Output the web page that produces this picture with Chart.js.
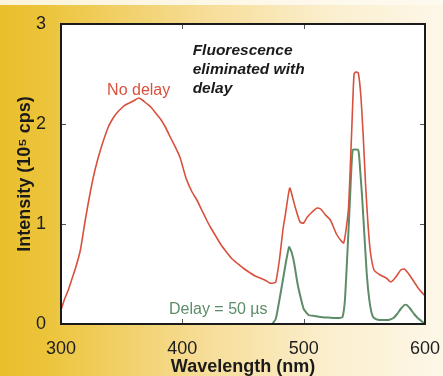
<!DOCTYPE html>
<html>
<head>
<meta charset="utf-8">
<script src="https://cdn.jsdelivr.net/npm/chart.js@4.4.1/dist/chart.umd.min.js"></script>
<style>
  html, body { margin: 0; padding: 0; background: #fdf7e8; }
  #wrap { width: 443px; height: 376px; }
</style>
</head>
<body>
<div id="wrap"><canvas id="spectrumChart" width="443" height="376"></canvas></div>
<script>
// spectra (wavelength in nm, intensity in 10^5 cps)
const redWavelengths = [300, 303, 306, 309, 312, 316, 320, 324, 328, 333, 339, 343, 346, 350, 353, 358, 361, 364, 367, 370,
    374, 378, 382, 386, 390, 393, 398, 403, 408, 412, 416, 420, 424, 428, 432, 437, 441, 445, 450, 456,
    460, 464, 468, 472, 475, 477, 480, 483, 485, 488.5, 491, 493, 497, 500, 503, 507, 511, 514, 518, 522,
    527, 531, 533, 535, 537, 539.5, 541.5, 543, 545, 547, 549, 551, 553, 555, 558, 563, 568, 572, 576, 580,
    583, 586, 590, 595, 600];
const redIntensity = [0.14, 0.25, 0.34, 0.45, 0.56, 0.74, 1.04, 1.31, 1.54, 1.76, 1.97, 2.06, 2.11, 2.16, 2.19, 2.22, 2.24, 2.26, 2.24, 2.21,
    2.17, 2.11, 2.05, 1.97, 1.87, 1.80, 1.67, 1.46, 1.32, 1.24, 1.14, 1.04, 0.95, 0.87, 0.79, 0.71, 0.65, 0.61, 0.56, 0.51,
    0.48, 0.46, 0.44, 0.41, 0.41, 0.42, 0.64, 0.95, 1.10, 1.36, 1.26, 1.17, 1.02, 1.01, 1.07, 1.12, 1.16, 1.15, 1.09, 1.04,
    0.90, 0.83, 0.81, 0.95, 1.17, 1.90, 2.50, 2.52, 2.51, 2.30, 1.90, 1.40, 1.00, 0.72, 0.54, 0.49, 0.46, 0.42, 0.47, 0.54,
    0.55, 0.51, 0.44, 0.35, 0.28];

const greenWavelengths = [474, 477, 480, 484, 486, 488, 490, 492, 495, 498, 500, 504, 509, 514, 519, 524, 529, 532, 534, 536,
    538, 540.4, 545, 546.5, 548, 550, 552, 554, 556, 558, 562, 566, 570, 574, 577, 580, 583, 585, 588, 591,
    594, 597, 600];
const greenIntensity = [0.0, 0.05, 0.24, 0.52, 0.66, 0.77, 0.72, 0.62, 0.40, 0.24, 0.15, 0.09, 0.08, 0.07, 0.065, 0.06, 0.06, 0.07, 0.24, 0.70,
    1.20, 1.74, 1.74, 1.55, 1.30, 0.90, 0.50, 0.25, 0.11, 0.06, 0.04, 0.04, 0.04, 0.06, 0.10, 0.15, 0.19, 0.19, 0.15, 0.10,
    0.06, 0.03, 0.0];

const xTicks = [300, 400, 500, 600];
const yTicks = [0, 1, 2, 3];

const redColor = '#d8513d';
const greenColor = '#5d8c68';
const fontFamily = '"Liberation Sans", Arial, Helvetica, sans-serif';

const toPoints = (xs, ys) => xs.map((x, i) => ({ x: x, y: ys[i] }));

// yellow backdrop, white plot box, frame, inward ticks and the labels inside the plot
const framePlugin = {
    id: 'frame',
    beforeDraw(chart) {
        const { ctx, width, height, chartArea: a } = chart;
        ctx.save();
        const g = ctx.createLinearGradient(0, 0, width, 0);
        g.addColorStop(0, '#eabf2c');
        g.addColorStop(0.1, '#ecc43a');
        g.addColorStop(0.45, '#f6dc95');
        g.addColorStop(0.75, '#fbefcf');
        g.addColorStop(1, '#fdf7e8');
        ctx.fillStyle = g;
        ctx.fillRect(0, 0, width, height);
        ctx.fillStyle = 'rgba(253, 249, 238, 0.9)';
        ctx.fillRect(0, 0, width, 5);
        ctx.fillStyle = '#ffffff';
        ctx.fillRect(a.left, a.top, a.right - a.left, a.bottom - a.top);
        ctx.restore();
    },
    afterDatasetsDraw(chart) {
        const { ctx, chartArea: a, scales } = chart;
        const x = scales.x, y = scales.y;
        ctx.save();
        ctx.strokeStyle = '#555';
        ctx.lineWidth = 1;
        ctx.beginPath();
        xTicks.slice(1, -1).forEach(v => {
            const px = Math.round(x.getPixelForValue(v)) + 0.5;
            ctx.moveTo(px, a.top); ctx.lineTo(px, a.top + 5);
            ctx.moveTo(px, a.bottom); ctx.lineTo(px, a.bottom - 5);
        });
        yTicks.slice(1, -1).forEach(v => {
            const py = Math.round(y.getPixelForValue(v)) + 0.5;
            ctx.moveTo(a.left, py); ctx.lineTo(a.left + 5, py);
            ctx.moveTo(a.right, py); ctx.lineTo(a.right - 5, py);
        });
        ctx.stroke();

        ctx.strokeStyle = '#1a1a1a';
        ctx.lineWidth = 2;
        ctx.strokeRect(a.left, a.top, a.right - a.left, a.bottom - a.top);

        ctx.textBaseline = 'middle';
        ctx.font = '16px ' + fontFamily;
        ctx.fillStyle = redColor;
        ctx.textAlign = 'center';
        ctx.fillText('No delay', x.getPixelForValue(364), y.getPixelForValue(2.33));

        ctx.fillStyle = greenColor;
        ctx.textAlign = 'left';
        ctx.fillText('Delay = 50 µs', x.getPixelForValue(389), y.getPixelForValue(0.14));

        ctx.fillStyle = '#1a1a1a';
        ctx.font = 'italic bold 15.5px ' + fontFamily;
        const noteLines = ['Fluorescence', 'eliminated with', 'delay'];
        const noteY = [2.73, 2.54, 2.35];
        noteLines.forEach((t, i) => ctx.fillText(t, x.getPixelForValue(408.5), y.getPixelForValue(noteY[i])));
        ctx.restore();
    }
};

const ctx = document.getElementById('spectrumChart').getContext('2d');
new Chart(ctx, {
    type: 'line',
    data: {
        datasets: [
            {
                label: 'No delay',
                data: toPoints(redWavelengths, redIntensity),
                borderColor: redColor,
                borderWidth: 1.6,
                pointRadius: 0,
                tension: 0.2,
                fill: false
            },
            {
                label: 'Delay = 50 µs',
                data: toPoints(greenWavelengths, greenIntensity),
                borderColor: greenColor,
                borderWidth: 2,
                pointRadius: 0,
                tension: 0.15,
                fill: false
            }
        ]
    },
    options: {
        responsive: false,
        animation: false,
        layout: { padding: { left: 0, right: 18, top: 24, bottom: 0 } },
        plugins: {
            legend: { display: false },
            tooltip: { enabled: false }
        },
        scales: {
            x: {
                type: 'linear',
                min: 300,
                max: 600,
                afterBuildTicks: axis => { axis.ticks = xTicks.map(v => ({ value: v })); },
                afterFit: axis => {
                    axis.height = 52;
                    axis.paddingLeft = 0;
                    axis.paddingRight = 0;
                },
                grid: { display: false },
                border: { display: false },
                ticks: {
                    padding: 6,
                    maxRotation: 0,
                    color: '#1e1e1e',
                    font: { family: fontFamily, size: 18 }
                },
                title: {
                    display: true,
                    text: 'Wavelength (nm)',
                    color: '#1a1a1a',
                    padding: { top: 0, bottom: 0 },
                    font: { family: fontFamily, size: 18, weight: 'bold', lineHeight: 1 }
                }
            },
            y: {
                min: 0,
                max: 3,
                afterBuildTicks: axis => { axis.ticks = yTicks.map(v => ({ value: v })); },
                afterFit: axis => {
                    axis.width = 61;
                    axis.paddingTop = 0;
                    axis.paddingBottom = 0;
                },
                grid: { display: false },
                border: { display: false },
                ticks: {
                    padding: 7,
                    color: '#1e1e1e',
                    font: { family: fontFamily, size: 18 }
                },
                title: {
                    display: true,
                    text: 'Intensity (10⁵ cps)',
                    color: '#1a1a1a',
                    padding: { top: 16, bottom: 0 },
                    font: { family: fontFamily, size: 18, weight: 'bold', lineHeight: 1 }
                }
            }
        }
    },
    plugins: [framePlugin]
});
</script>
</body>
</html>
